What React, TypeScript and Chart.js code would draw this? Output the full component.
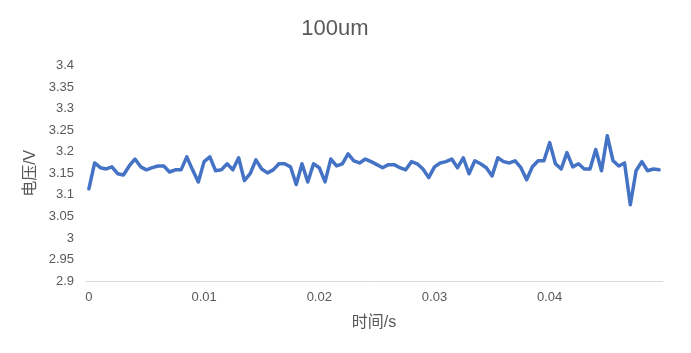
import React, { useEffect, useRef } from "react";
import { Chart, registerables } from "chart.js";

Chart.register(...registerables);

const chartTitle = "100um";
const xAxisTitle = "时间/s";
const yAxisTitle = "电压/V";
const timeStep = 0.0005;
const voltage: number[] = [
  3.114, 3.174, 3.163, 3.160, 3.165, 3.149, 3.146, 3.167, 3.183, 3.165,
  3.158, 3.163, 3.167, 3.167, 3.153, 3.158, 3.158, 3.188, 3.158, 3.130,
  3.177, 3.188, 3.156, 3.158, 3.172, 3.158, 3.186, 3.133, 3.149, 3.181,
  3.160, 3.151, 3.158, 3.172, 3.172, 3.165, 3.124, 3.172, 3.130, 3.172,
  3.163, 3.130, 3.183, 3.167, 3.172, 3.195, 3.179, 3.174, 3.183, 3.177,
  3.170, 3.163, 3.170, 3.170, 3.163, 3.158, 3.177, 3.172, 3.160, 3.140,
  3.165, 3.174, 3.177, 3.183, 3.163, 3.186, 3.149, 3.179, 3.172, 3.163,
  3.144, 3.186, 3.177, 3.174, 3.179, 3.163, 3.135, 3.165, 3.179, 3.179,
  3.221, 3.172, 3.160, 3.198, 3.165, 3.172, 3.160, 3.160, 3.205, 3.156,
  3.237, 3.179, 3.167, 3.174, 3.077, 3.156, 3.177, 3.156, 3.160, 3.158,
];
const timeLabels: string[] = voltage.map((_, i) => String(Number((i * timeStep).toFixed(4))));
const labelEvery = 20;
const yMin = 2.9;
const yMax = 3.4;
const yStep = 0.05;

const FONT = "'Liberation Sans', 'Noto Sans CJK SC', sans-serif";
const GREY = "#595959";

export default function App() {
  const ref = useRef<HTMLCanvasElement | null>(null);
  useEffect(() => {
    document.body.style.margin = "0";
    const ctx = ref.current!;
    const chart = new Chart(ctx, {
      type: "line",
      data: {
        labels: timeLabels,
        datasets: [
          {
            data: voltage,
            borderColor: "#4472C4",
            backgroundColor: "#4472C4",
            borderWidth: 3.5,
            pointRadius: 0,
            tension: 0,
            borderJoinStyle: "round",
            borderCapStyle: "round",
          },
        ],
      },
      options: {
        animation: false,
        responsive: false,
        maintainAspectRatio: false,
        layout: { padding: { top: 8, right: 29, bottom: 21, left: 8 } },
        plugins: {
          legend: { display: false },
          tooltip: { enabled: false },
          title: {
            display: true,
            text: chartTitle,
            color: GREY,
            font: { family: FONT, size: 22, weight: "normal" },
            padding: { top: 8, bottom: 23 },
          },
        },
        scales: {
          x: {
            type: "category",
            offset: true,
            grid: { display: false, drawTicks: false },
            border: { display: true, color: "#d9d9d9", width: 1 },
            ticks: {
              autoSkip: false,
              maxRotation: 0,
              color: GREY,
              padding: 8,
              font: { family: FONT, size: 13 },
              callback: (_v: any, i: number) => (i % labelEvery === 0 ? timeLabels[i] : ""),
            },
            title: {
              display: true,
              text: xAxisTitle,
              color: GREY,
              font: { family: FONT, size: 16 },
              padding: { top: 0, bottom: 0 },
            },
          },
          y: {
            min: yMin,
            max: yMax,
            grid: { display: false, drawTicks: false },
            border: { display: false },
            ticks: {
              stepSize: yStep,
              color: GREY,
              padding: 12,
              font: { family: FONT, size: 13 },
              callback: (v: any) => String(Number(Number(v).toFixed(2))),
            },
            title: {
              display: true,
              text: yAxisTitle,
              color: GREY,
              font: { family: FONT, size: 16 },
              padding: { top: 13, bottom: 0 },
            },
            afterFit: (scale: any) => {
              scale.width = 78;
            },
          },
        },
      },
    });
    return () => chart.destroy();
  }, []);
  return (
    <div style={{ width: 691, height: 353 }}>
      <canvas ref={ref} width={691} height={353} />
    </div>
  );
}
